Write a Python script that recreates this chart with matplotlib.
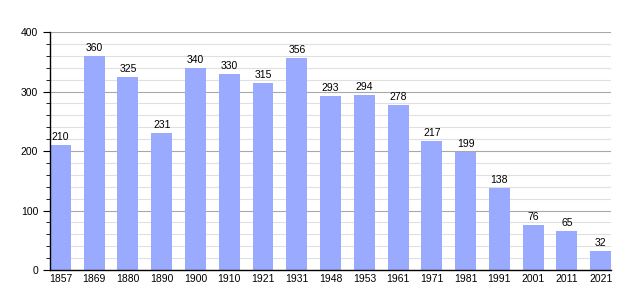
import matplotlib
matplotlib.use("Agg")
import matplotlib.pyplot as plt
from matplotlib.ticker import MultipleLocator

years = ["1857", "1869", "1880", "1890", "1900", "1910", "1921", "1931", "1948",
         "1953", "1961", "1971", "1981", "1991", "2001", "2011", "2021"]
population = [210, 360, 325, 231, 340, 330, 315, 356, 293, 294, 278, 217, 199,
              138, 76, 65, 32]

plt.rcParams['font.family'] = ['Liberation Sans', 'DejaVu Sans']

fig = plt.figure(figsize=(6.4, 3.0), dpi=100)
ax = fig.add_axes([0.078, 0.1, 0.877, 0.793])

x = range(len(years))
ax.bar(x, population, width=0.62, color='#99aaff', zorder=2)
for xi, v in zip(x, population):
    ax.text(xi, v + 5, str(v), ha='center', va='bottom', fontsize=7.5, zorder=3)

ax.set_xlim(-0.31, len(years) - 1 + 0.31)
ax.set_ylim(0, 400)
ax.set_xticks(list(x))
ax.set_xticklabels(years)
ax.yaxis.set_major_locator(MultipleLocator(100))
ax.yaxis.set_minor_locator(MultipleLocator(20))
ax.grid(axis='y', which='minor', color='#e0e0e0', linewidth=0.8, zorder=0)
ax.grid(axis='y', which='major', color='#a8a8a8', linewidth=0.8, zorder=1)

for s in ['top', 'right']:
    ax.spines[s].set_visible(False)
ax.spines['left'].set_linewidth(1.0)
ax.spines['bottom'].set_linewidth(1.0)
ax.tick_params(axis='x', length=0, labelsize=7.5, pad=3)
ax.tick_params(axis='y', which='major', length=5, labelsize=7.5)
ax.tick_params(axis='y', which='minor', length=3)

fig.savefig("out.png", dpi=100)
